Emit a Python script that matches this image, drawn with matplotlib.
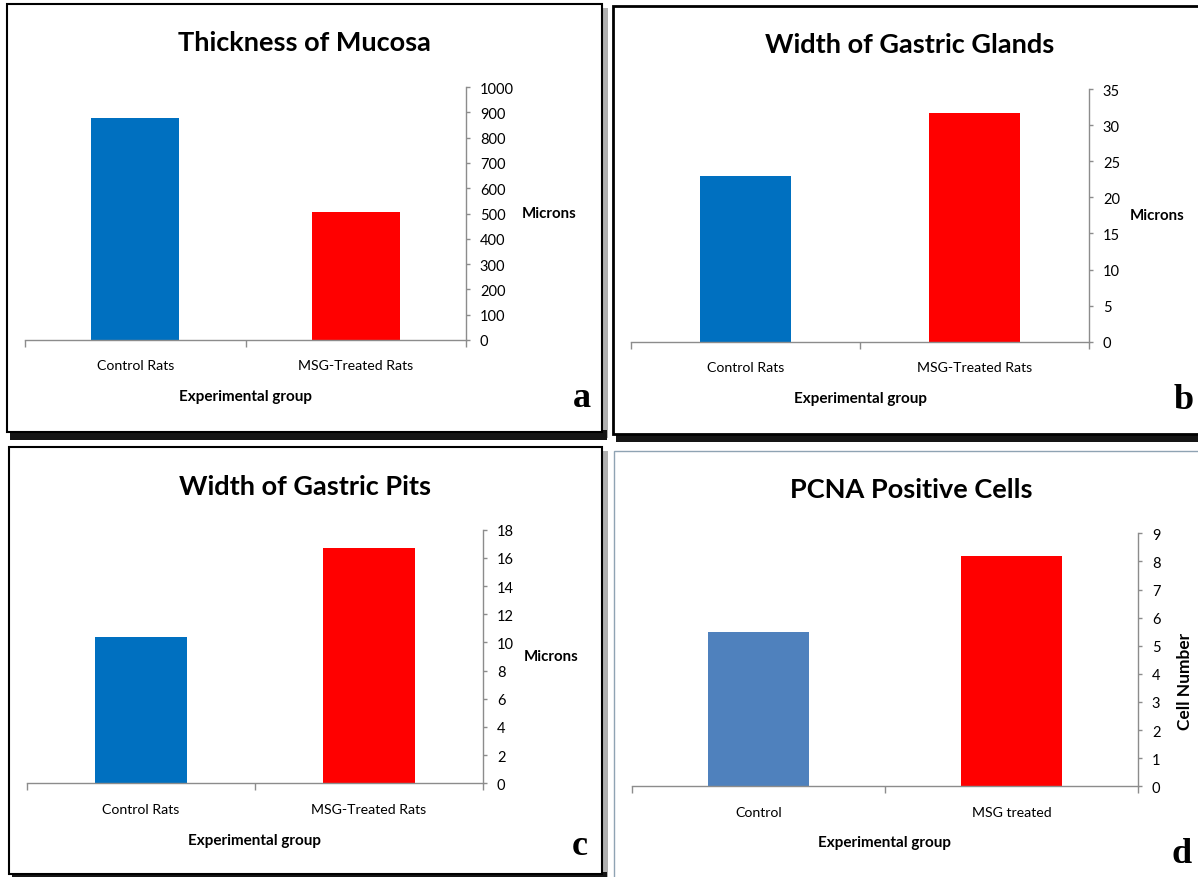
import matplotlib
matplotlib.use('Agg')
import matplotlib.pyplot as plt
from matplotlib.patches import Rectangle

# Valores
grupos_ratos = ['Control Rats', 'MSG-Treated Rats']
grupos_pcna = ['Control', 'MSG treated']
espessura_mucosa = [877, 506]
largura_glandulas = [22.9, 31.7]
largura_fossetas = [10.4, 16.7]
celulas_pcna = [5.5, 8.2]

titulos = ['Thickness of Mucosa', 'Width of Gastric Glands',
           'Width of Gastric Pits', 'PCNA Positive Cells']
rotulos_y = ['Microns', 'Microns', 'Microns', 'Cell Number']
letras = ['a', 'b', 'c', 'd']
y_max = [1000, 35, 18, 9]
y_passo = [100, 5, 2, 1]

AZUL = '#0070C0'
AZUL_PCNA = '#4F81BD'
VERMELHO = '#FF0000'
CINZA = '#8C8C8C'

plt.rcParams['font.family'] = ['Lato', 'DejaVu Sans']

W, H = 1198, 878
fig = plt.figure(figsize=(W / 100, H / 100), dpi=100)


def caixa(l, t, r, b):
    # pixels (origem no topo) -> fração da figura
    return [l / W, 1 - b / H, (r - l) / W, (b - t) / H]


def fx(x):
    return x / W


def fy(y):
    return 1 - y / H


def retangulo(l, t, r, b, **kw):
    fig.add_artist(Rectangle((fx(l), fy(b)), fx(r - l), (b - t) / H,
                             transform=fig.transFigure, **kw))


# molduras dos painéis (sombra + caixa)
molduras = [
    (7, 5, 602, 433, 'black', 1.5, True),
    (613, 7, 1205, 435, 'black', 2.0, True),
    (9, 448, 602, 875, 'black', 1.5, True),
    (614, 452, 1205, 885, '#8FA3B3', 1.0, False),
]
for l, t, r, b, cor, lw, sombra in molduras:
    if sombra:
        # sombra clara à direita e escura em baixo
        retangulo(l + 3, t + 4, r + 6, b + 6, facecolor='#B0B0B0', edgecolor='none', zorder=-4)
        retangulo(l + 3, b - 2, r + 5, b + 8, facecolor='#151515', edgecolor='none', zorder=-3)
    retangulo(l, t, r, b, facecolor='white', edgecolor=cor, linewidth=lw, zorder=-2)

# áreas de plotagem em pixels
areas = [
    (25, 88, 466, 341),
    (631, 90, 1089, 342.7),
    (27, 530.7, 483, 784.3),
    (632, 534.3, 1138, 787.3),
]
dados = [espessura_mucosa, largura_glandulas, largura_fossetas, celulas_pcna]
categorias = [grupos_ratos, grupos_ratos, grupos_ratos, grupos_pcna]
cores = [[AZUL, VERMELHO], [AZUL, VERMELHO], [AZUL, VERMELHO], [AZUL_PCNA, VERMELHO]]
pos_titulo = [(304, 43), (910, 45), (305, 487), (911, 490)]
pos_letra = [(582, 407), (1184, 409), (580, 855), (1182, 863)]
label_x = [1.127, 1.0895, 1.09, 1.093]

for i in range(4):
    ax = fig.add_axes(caixa(*areas[i]))
    ax.set_facecolor('none')
    ax.bar([0, 1], dados[i], width=0.4, color=cores[i])
    ax.set_xlim(-0.5, 1.5)
    ax.set_ylim(0, y_max[i])
    ax.set_yticks(range(0, y_max[i] + 1, y_passo[i]))

    for lado in ['top', 'left']:
        ax.spines[lado].set_visible(False)
    for lado in ['right', 'bottom']:
        ax.spines[lado].set_color(CINZA)
        ax.spines[lado].set_linewidth(1.0)

    ax.yaxis.tick_right()
    ax.tick_params(axis='y', direction='out', length=3, width=1, color=CINZA,
                   pad=7, labelsize=10.5, labelcolor='black')

    ax.set_xticks([0, 1])
    ax.set_xticklabels(categorias[i])
    ax.set_xticks([-0.5, 0.5, 1.5], minor=True)
    ax.tick_params(axis='x', which='major', length=0, pad=14, labelsize=10.2)
    ax.tick_params(axis='x', which='minor', direction='out', length=5, width=1, color=CINZA)

    ax.set_xlabel('Experimental group', fontsize=11, fontweight='bold')
    ax.xaxis.set_label_coords(0.5, -0.222)
    ax.xaxis.label.set_va('center')

    ax.yaxis.set_label_position('right')
    if i < 3:
        ax.set_ylabel(rotulos_y[i], fontsize=10.8, fontweight='bold', rotation=0,
                      ha='left', va='center')
        ax.yaxis.set_label_coords(label_x[i], 0.5)
    else:
        ax.set_ylabel(rotulos_y[i], fontsize=12.5, fontweight='bold', rotation=90,
                      ha='center', va='center')
        ax.yaxis.set_label_coords(label_x[i], 0.42)

    tx, ty = pos_titulo[i]
    fig.text(fx(tx), fy(ty), titulos[i], fontsize=19.5, fontweight='bold',
             ha='center', va='center')
    lx, ly = pos_letra[i]
    fig.text(fx(lx), fy(ly), letras[i], fontsize=26, fontweight='bold',
             family='Liberation Serif', ha='center', va='baseline')

fig.savefig('out.png', dpi=100)
